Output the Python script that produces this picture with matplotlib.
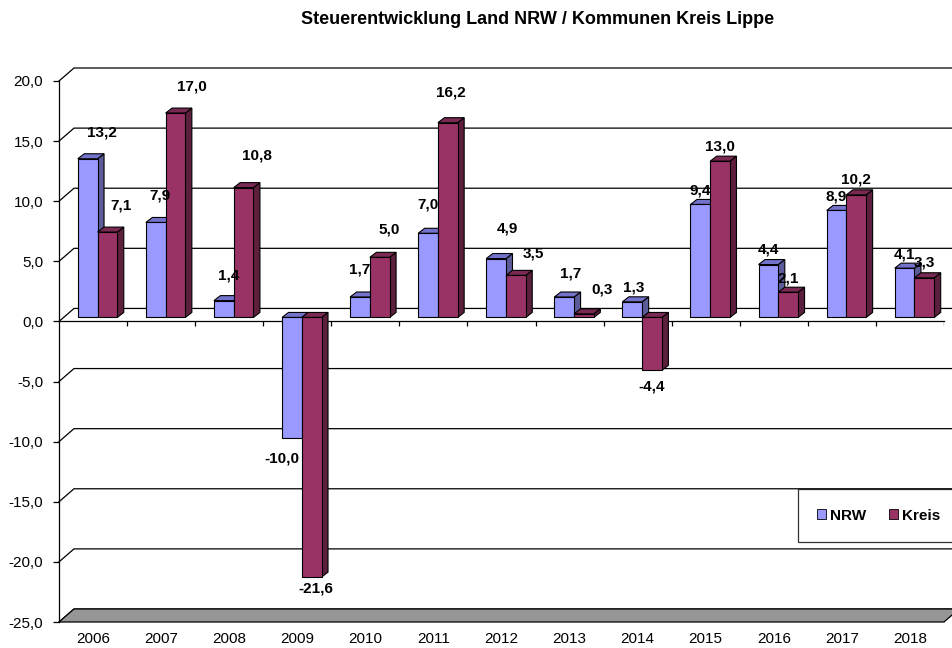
import numpy as np
import matplotlib.pyplot as plt
from matplotlib.patches import Polygon, Patch

years = ['2006', '2007', '2008', '2009', '2010', '2011', '2012',
         '2013', '2014', '2015', '2016', '2017', '2018']
nrw = [13.2, 7.9, 1.4, -10.0, 1.7, 7.0, 4.9, 1.7, 1.3, 9.4, 4.4, 8.9, 4.1]
kreis = [7.1, 17.0, 10.8, -21.6, 5.0, 16.2, 3.5, 0.3, -4.4, 13.0, 2.1, 10.2, 3.3]
yticks = [-25, -20, -15, -10, -5, 0, 5, 10, 15, 20]

# label offsets (pixels) from the end of each bar, like excel put them
nrw_off = [(14, 26), (4, 27), (5, 25), (-10, -21), (0, 28), (0, 29), (11, 30),
           (6, 24), (1, 14), (0, 14), (0, 15), (0, 14), (0, 14)]
kreis_off = [(14, 27), (16, 27), (13, 32), (4, -11), (9, 28), (3, 30), (18, 22),
             (18, 24), (0, -16), (0, 15), (0, 14), (0, 15), (0, 15)]

plt.rcParams['font.family'] = ['Liberation Sans', 'DejaVu Sans']

c_nrw, c_nrw_top, c_nrw_side = '#9999FF', '#7373CC', '#5C5C99'
c_kr, c_kr_top, c_kr_side = '#993366', '#7A2952', '#5C1F3D'

W, H = 952, 648
fig = plt.figure(figsize=(W / 100, H / 100), dpi=100)
left, right, top, bottom = 59, 944, 81, 622   # front plane of plot area (px)
ax = fig.add_axes([left / W, 1 - bottom / H, (right - left) / W, (bottom - top) / H])
n = len(years)
ymin, ymax = yticks[0], yticks[-1]
ax.set_xlim(-0.5, n - 0.5)
ax.set_ylim(ymin, ymax)

ux = (right - left) / n
uy = (bottom - top) / (ymax - ymin)
def px(dx, dy):
    return dx / ux, dy / uy

wx, wy = px(15, 13)    # wall depth
sx, sy = px(4.5, 4)    # bar plane shift
bx, by = px(6.5, 5)    # bar depth
bw = 0.29

x0, x1 = -0.5, n - 0.5
# back wall grid + side wall diagonals
for t in yticks:
    ax.plot([x0, x0 + wx, x1 + wx], [t, t + wy, t + wy], color='black', lw=0.9,
            clip_on=False, zorder=1, solid_joinstyle='miter')
floor = Polygon([(x0, ymin), (x1, ymin), (x1 + wx, ymin + wy), (x0 + wx, ymin + wy)],
                closed=True, fc='#969696', ec='black', lw=0.9, clip_on=False, zorder=2)
ax.add_patch(floor)

# front x axis at zero with boundary ticks
ax.plot([x0, x1], [0, 0], color='black', lw=0.9, zorder=2, clip_on=False)
ax.vlines(np.arange(1, n + 1) - 0.5, 0, -5 / uy, color='black', lw=0.9, zorder=2)


def bar3d(xl, v, fc, tc, scol, z):
    xl = xl + sx
    lo, hi = min(0, v) + sy, max(0, v) + sy
    ax.add_patch(Polygon([(xl + bw, lo), (xl + bw + bx, lo + by), (xl + bw + bx, hi + by),
                          (xl + bw, hi)], closed=True, fc=scol, ec='black', lw=0.8, zorder=z))
    ax.add_patch(Polygon([(xl, hi), (xl + bw, hi), (xl + bw + bx, hi + by), (xl + bx, hi + by)],
                         closed=True, fc=tc, ec='black', lw=0.8, zorder=z))
    ax.bar(xl, v, width=bw, bottom=sy, align='edge', color=fc, edgecolor='black',
           lw=0.8, zorder=z + 0.5)


for i in range(n):
    bar3d(i - bw, nrw[i], c_nrw, c_nrw_top, c_nrw_side, 10 + 2 * i)
    bar3d(i, kreis[i], c_kr, c_kr_top, c_kr_side, 11 + 2 * i)

for i in range(n):
    for vals, offs, xc in ((nrw, nrw_off, i - bw / 2), (kreis, kreis_off, i + bw / 2)):
        v = vals[i]
        ax.annotate(f'{v:.1f}'.replace('.', ','), (xc + sx, v + sy), xytext=offs[i],
                    textcoords='offset pixels', ha='center', va='center',
                    fontsize=11, fontweight='bold', zorder=60, annotation_clip=False)

for s in ['top', 'right', 'bottom']:
    ax.spines[s].set_visible(False)
ax.spines['left'].set_linewidth(0.9)
ax.spines['left'].set_zorder(3)
ax.set_facecolor('none')
ax.set_yticks(yticks)
ax.set_yticklabels([f'{t:.1f}'.replace('.', ',') for t in yticks])
ax.set_xticks(range(n))
ax.set_xticklabels(years)
ax.tick_params(axis='y', length=4, width=0.9, pad=7.5, labelsize=11)
ax.tick_params(axis='x', length=0, pad=7.5, labelsize=11)

fig.text(538 / W, 1 - 20 / H, 'Steuerentwicklung Land NRW / Kommunen Kreis Lippe',
         ha='center', va='center', fontsize=13, fontweight='bold')

handles = [Patch(fc=c_nrw, ec='black', lw=0.6, label='NRW'),
           Patch(fc=c_kr, ec='black', lw=0.6, label='Kreis')]
leg = fig.legend(handles=handles, loc='center left', bbox_to_anchor=(798 / W, 1 - 515.5 / H),
                 ncol=2, frameon=True, fancybox=False, borderaxespad=0, borderpad=1.25,
                 prop={'weight': 'bold', 'size': 11}, handlelength=0.55, handleheight=0.55,
                 handletextpad=0.3, columnspacing=1.5)
leg.get_frame().set_edgecolor('black')
leg.get_frame().set_linewidth(0.9)
leg.set_zorder(100)

fig.savefig('out.png', dpi=100)
